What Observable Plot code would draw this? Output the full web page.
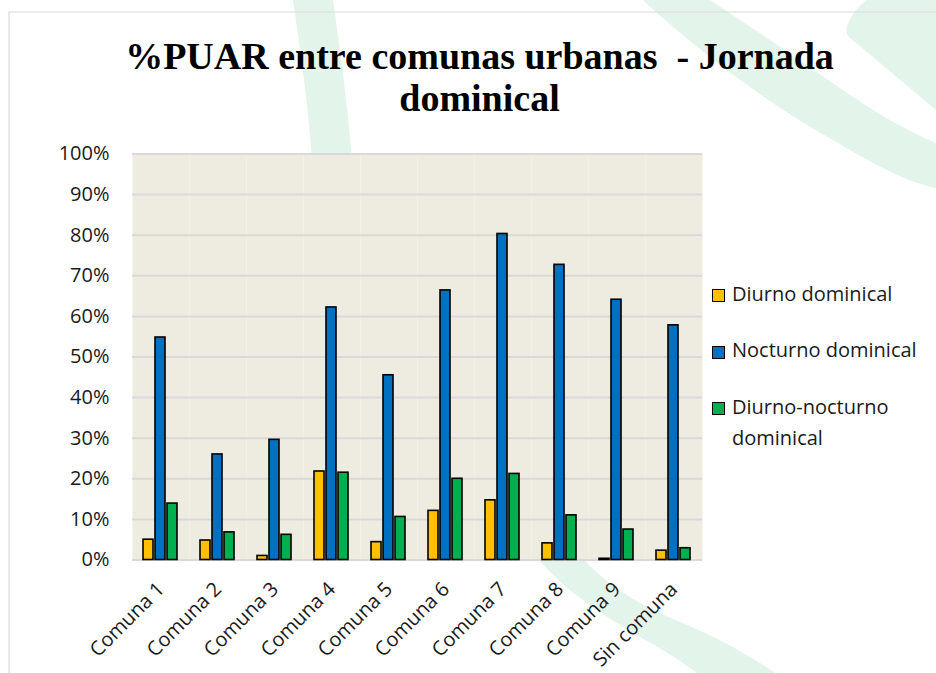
<!DOCTYPE html>
<html>
<head>
<meta charset="utf-8">
<script src="https://cdn.jsdelivr.net/npm/d3@7"></script>
<script src="https://cdn.jsdelivr.net/npm/@observablehq/plot@0.6"></script>
<style>
  body { margin: 0; background: #fff; }
  #wrap { position: relative; width: 936px; height: 673px; overflow: hidden; font-family: "Open Sans", sans-serif; }
  #deco { position: absolute; left: 0; top: 0; }
  #chart { position: absolute; left: 0; top: 0; }
  #title { position: absolute; left: 22px; width: 915px; top: 35px; text-align: center;
           font: bold 38px/42px "Liberation Serif", serif; color: #000; white-space: pre; }
  #legend { position: absolute; left: 0; top: 0; }
  .sw { position: absolute; left: 712px; width: 11px; height: 11px; border: 1.5px solid #000; }
  .lt { position: absolute; left: 732px; font-size: 20px; line-height: 32px; height: 32px; white-space: nowrap; color: #1a1a1a; }
</style>
</head>
<body>
<div id="wrap">
  <svg id="deco" width="936" height="673">
    <g fill="#e3f4ea">
      <path d="M293,0 L333,0 C340,50 347,100 352,160 L312,160 C308,100 300,50 293,0 Z"/>
      <path d="M643,0 C680,35 760,100 833,140 C870,162 905,182 936,188 L936,143 C905,130 880,115 850,95 L770,40 L710,0 Z"/>
      <path d="M867,0 L936,0 L936,110 L848,36 C842,28 855,8 867,0 Z"/>
      <path d="M535,555 L580,555 C610,590 650,610 683,623 C715,637 745,652 775,673 L697,673 C670,652 640,638 617,623 C585,603 560,585 535,555 Z"/>
    </g>
    <path d="M9,673 L9,12 L936,12" fill="none" stroke="#d9d9d9" stroke-width="1.2"/>
  </svg>
  <div id="chart"></div>
  <div id="title">%PUAR entre comunas urbanas  - Jornada
dominical</div>
  <div id="legend"></div>
</div>
<script>
// ---- Data ----
const comunas = ["Comuna 1", "Comuna 2", "Comuna 3", "Comuna 4", "Comuna 5", "Comuna 6", "Comuna 7", "Comuna 8", "Comuna 9", "Sin comuna"];
const series = ["Diurno dominical", "Nocturno dominical", "Diurno-nocturno dominical"];
const diurno = [5.0, 4.8, 1.0, 21.8, 4.4, 12.1, 14.7, 4.1, 0.3, 2.3];
const nocturno = [54.8, 26.0, 29.6, 62.2, 45.5, 66.4, 80.3, 72.7, 64.1, 57.8];
const diurnoNocturno = [13.9, 6.8, 6.2, 21.5, 10.6, 20.0, 21.2, 11.0, 7.5, 2.9];
const yTicks = [0, 10, 20, 30, 40, 50, 60, 70, 80, 90, 100];
const colors = ["#FFC000", "#0070C0", "#00B050"];

const valuesBySeries = [diurno, nocturno, diurnoNocturno];
const data = [];
comunas.forEach((c, i) => {
  series.forEach((s, j) => data.push({comuna: c, serie: s, value: valuesBySeries[j][i]}));
});

const chart = Plot.plot({
  width: 936,
  height: 673,
  marginTop: 153.5,
  marginBottom: 113.5,
  marginLeft: 130,
  marginRight: 233,
  style: {background: "transparent", fontFamily: "Open Sans, sans-serif", fontSize: "19px", color: "#1a1a1a", overflow: "visible"},
  fx: {domain: comunas, padding: 0, label: null},
  x: {domain: series, paddingInner: 0.15, paddingOuter: 0.78, axis: null},
  y: {domain: [0, 100], label: null},
  color: {domain: series, range: colors},
  marks: [
    Plot.frame({fill: "#eeece1", stroke: "none"}),
    Plot.gridY(yTicks, {stroke: "#d9d9d9", strokeOpacity: 1, strokeWidth: 2}),
    Plot.barY(data, {fx: "comuna", x: "serie", y: "value", fill: "serie", stroke: "#000", strokeWidth: 1.6}),
    Plot.axisY(yTicks, {tickSize: 0, tickPadding: 23, tickFormat: d => d + "%", fontSize: 20, fill: "#1a1a1a"}),
    Plot.axisFx({anchor: "bottom", tickSize: 0, tickPadding: 26, tickRotate: -45, textAnchor: "end", fontSize: 20, fill: "#1a1a1a", dx: 0})
  ]
});
document.getElementById("chart").appendChild(chart);

// ---- Legend (HTML) ----
const legend = document.getElementById("legend");
const legendLines = [["Diurno dominical"], ["Nocturno dominical"], ["Diurno-nocturno", "dominical"]];
const swatchCenters = [296, 352.5, 409];
series.forEach((s, j) => {
  const sw = document.createElement("div");
  sw.className = "sw";
  sw.style.background = colors[j];
  sw.style.top = (swatchCenters[j] - 7) + "px";
  legend.appendChild(sw);
  legendLines[j].forEach((line, k) => {
    const t = document.createElement("div");
    t.className = "lt";
    t.textContent = line;
    t.style.top = (swatchCenters[j] - 2.4 - 16 + k * 31.5) + "px";
    legend.appendChild(t);
  });
});
</script>
</body>
</html>
